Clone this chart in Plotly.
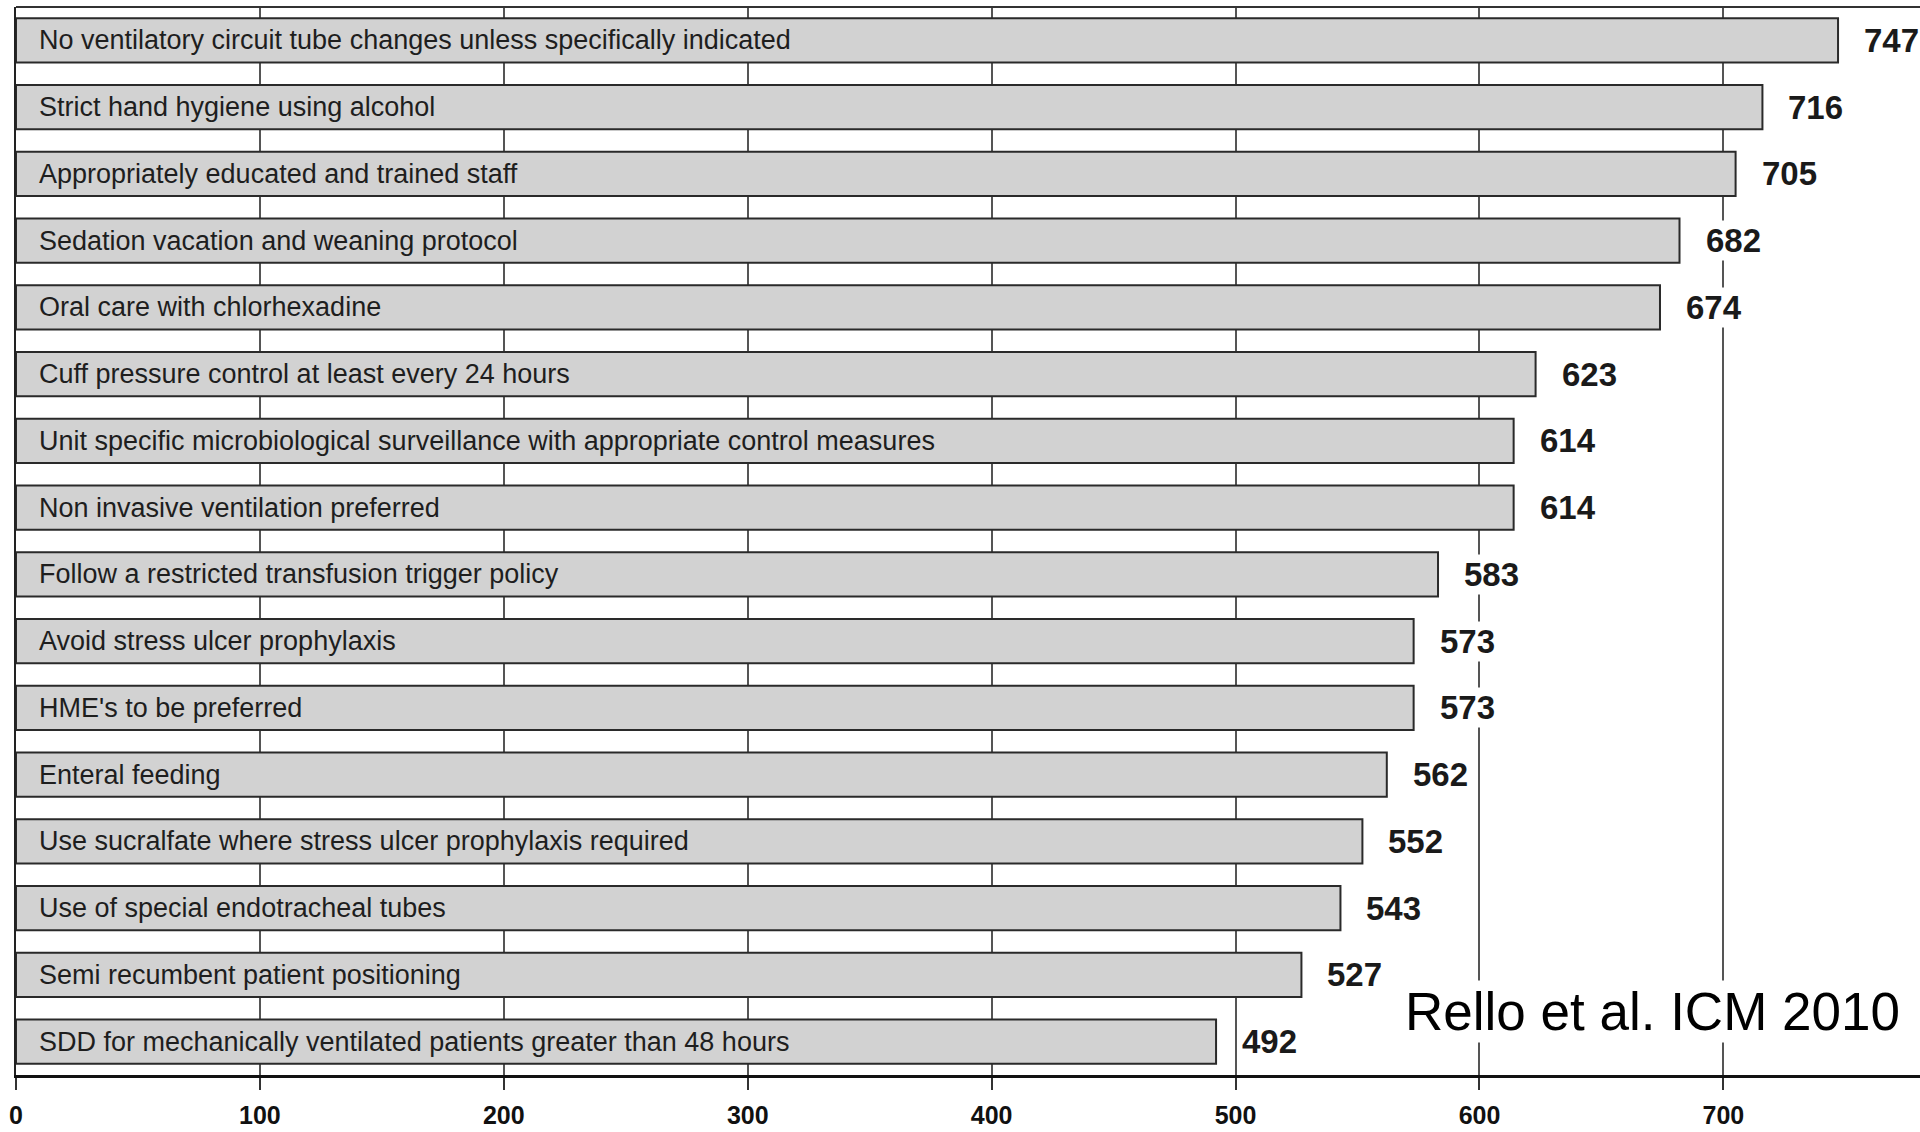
import plotly.graph_objects as go

categories = [
    "No ventilatory circuit tube changes unless specifically indicated",
    "Strict hand hygiene using alcohol",
    "Appropriately educated and trained staff",
    "Sedation vacation and weaning protocol",
    "Oral care with chlorhexadine",
    "Cuff pressure control at least every 24 hours",
    "Unit specific microbiological surveillance with appropriate control measures",
    "Non invasive ventilation preferred",
    "Follow a restricted transfusion trigger policy",
    "Avoid stress ulcer prophylaxis",
    "HME's to be preferred",
    "Enteral feeding",
    "Use sucralfate where stress ulcer prophylaxis required",
    "Use of special endotracheal tubes",
    "Semi recumbent patient positioning",
    "SDD for mechanically ventilated patients greater than 48 hours",
]
values = [747, 716, 705, 682, 674, 623, 614, 614, 583, 573, 573, 562, 552, 543, 527, 492]
tick_vals = [0, 100, 200, 300, 400, 500, 600, 700]
tick_text = ["0", "100", "200", "300", "400", "500", "600", "700"]
source_note = "Rello et al. ICM 2010"

fig = go.Figure()
fig.add_trace(go.Bar(
    x=values, y=categories, orientation="h",
    marker=dict(color="#d2d2d2", line=dict(color="#2a2a2a", width=2)),
    width=0.66, hoverinfo="skip", showlegend=False,
))

annotations = []
for c, v in zip(categories, values):
    annotations.append(dict(
        x=0, y=c, xref="x", yref="y", text=c, showarrow=False,
        xanchor="left", yanchor="middle", xshift=21,
        font=dict(family="Liberation Sans, Arial, sans-serif", size=27, color="#1e1e1e"),
    ))
    annotations.append(dict(
        x=v, y=c, xref="x", yref="y", text=str(v), showarrow=False,
        xanchor="left", yanchor="middle", xshift=24,
        bgcolor="white", borderpad=1,
        font=dict(family="Liberation Sans, Arial, sans-serif", size=33, color="#1a1a1a", weight="bold"),
    ))
annotations.append(dict(
    x=1.0, y=categories[-1], xref="paper", yref="y", text=source_note, showarrow=False,
    xanchor="right", yanchor="middle", xshift=-18, yshift=30,
    bgcolor="white",
    font=dict(family="Liberation Sans, Arial, sans-serif", size=53, color="black"),
))

fig.update_layout(
    width=1920, height=1132,
    margin=dict(l=16, r=0, t=7, b=57),
    paper_bgcolor="white", plot_bgcolor="white",
    bargap=0.34,
    annotations=annotations,
    shapes=[dict(type="line", xref="paper", yref="paper", x0=0, x1=1, y0=1, y1=1,
                 line=dict(color="#333", width=2))],
)
fig.update_xaxes(
    range=[0, 780.6], tickvals=tick_vals, ticktext=tick_text, automargin=False,
    showgrid=True, gridcolor="#555", gridwidth=1.5, zeroline=False,
    showline=True, linecolor="#111", linewidth=3,
    ticks="outside", ticklen=12, tickcolor="#333", tickwidth=1.5,
    ticklabelstandoff=4,
    tickfont=dict(family="Liberation Sans, Arial, sans-serif", size=25, color="#111", weight="bold"),
)
fig.update_yaxes(
    categoryorder="array", categoryarray=categories, automargin=False,
    range=[15.5, -0.5], showticklabels=False, showgrid=False, zeroline=False,
    showline=True, linecolor="#222", linewidth=2, ticks="",
)

fig.write_html(
    "out.html",
    config={"displayModeBar": False},
    post_script="document.body.style.margin='0';document.body.style.overflow='hidden';",
)
